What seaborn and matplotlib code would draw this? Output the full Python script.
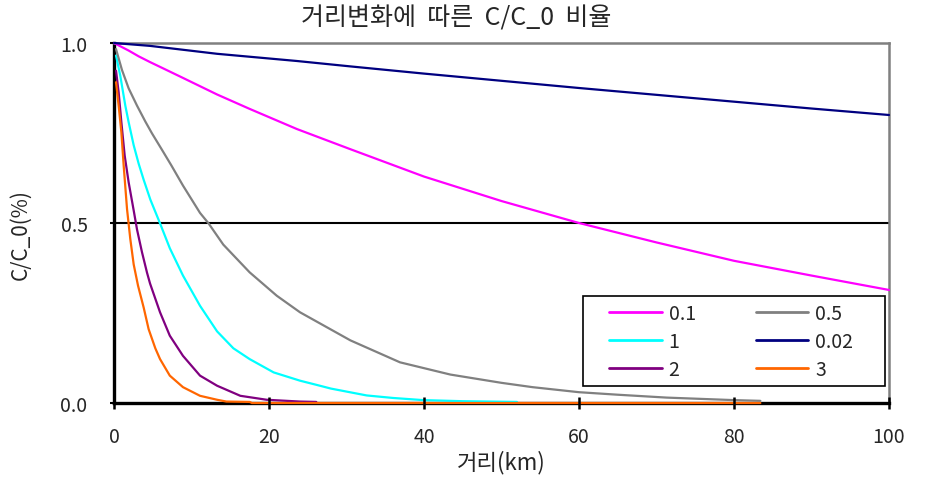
import numpy as np
import pandas as pd
import matplotlib
matplotlib.use("Agg")
import matplotlib.pyplot as plt
from matplotlib.ticker import FormatStrFormatter
from matplotlib.patches import Rectangle
import seaborn as sns

# ---- data ----
labels = ["0.1", "1", "2", "0.5", "0.02", "3"]

x_01 = [0, 1.89, 3.18, 4.65, 6.2, 8.9, 13.3, 17.5, 23.6, 30.5, 40, 50, 60, 70, 80, 90, 100]
y_01 = [1.0, 0.979, 0.963, 0.947, 0.931, 0.903, 0.857, 0.817, 0.761, 0.705, 0.629, 0.561, 0.5, 0.446, 0.395, 0.354, 0.314]

x_002 = [0, 4.65, 13.3, 23.6, 30.5, 40, 50, 60, 70, 80, 90, 100]
y_002 = [1.0, 0.992, 0.970, 0.950, 0.935, 0.915, 0.895, 0.875, 0.856, 0.837, 0.818, 0.80]

x_05 = [0.26, 1.03, 1.89, 2.97, 4.04, 4.9, 6.2, 7.4, 8.9, 11.1, 12.2, 14.1, 17.5, 21, 24,
        30.5, 36.9, 43.4, 50, 54, 60, 65, 71.3, 80, 83.4]
y_05 = [0.983, 0.925, 0.874, 0.826, 0.782, 0.749, 0.703, 0.660, 0.604, 0.528, 0.499, 0.440, 0.363, 0.298, 0.252,
        0.174, 0.113, 0.079, 0.056, 0.044, 0.030, 0.023, 0.015, 0.008, 0.006]

x_1 = [0.26, 0.81, 1.46, 1.89, 2.54, 3.18, 3.83, 4.69, 5.94, 7.2, 8.9, 11.1, 13.3, 15.4, 17.5,
       20.6, 24, 26.2, 28, 32.6, 36, 39.9, 45, 52]
y_1 = [0.965, 0.909, 0.826, 0.78, 0.716, 0.665, 0.620, 0.565, 0.499, 0.430, 0.354, 0.270, 0.199, 0.152, 0.122,
       0.085, 0.062, 0.050, 0.040, 0.021, 0.014, 0.008, 0.005, 0.003]

x_2 = [0.26, 0.6, 0.95, 1.38, 1.89, 2.54, 2.97, 3.61, 4.26, 4.65, 5.94, 7.2, 8.9, 11.1, 13.3,
       16.3, 19.7, 24, 26.1]
y_2 = [0.923, 0.863, 0.78, 0.687, 0.613, 0.535, 0.482, 0.419, 0.362, 0.332, 0.252, 0.187, 0.131, 0.076, 0.048,
       0.020, 0.009, 0.004, 0.003]

x_3 = [0.26, 0.6, 0.95, 1.25, 1.68, 2.1, 2.54, 3.1, 3.83, 4.47, 5.33, 5.94, 7.2, 8.9, 11.1,
       13.3, 14.5, 17.5, 17.8, 83.4]
y_3 = [0.891, 0.826, 0.752, 0.659, 0.539, 0.456, 0.385, 0.326, 0.265, 0.205, 0.152, 0.122, 0.076, 0.044, 0.020,
       0.009, 0.004, 0.003, 0.0, 0.0]

xticks = [0, 20, 40, 60, 80, 100]
yticks = [0.0, 0.5, 1.0]

series = {"0.1": (x_01, y_01), "1": (x_1, y_1), "2": (x_2, y_2),
          "0.5": (x_05, y_05), "0.02": (x_002, y_002), "3": (x_3, y_3)}
frames = []
for name in labels:
    xs, ys = series[name]
    frames.append(pd.DataFrame({"x": xs, "y": ys, "k": name}))
df = pd.concat(frames, ignore_index=True)

palette = {"0.1": "#FF00FF", "1": "#00FFFF", "2": "#800080",
           "0.5": "#808080", "0.02": "#000080", "3": "#FF6600"}

sns.set_theme(style="white")
plt.rcParams["font.family"] = ["Noto Sans CJK KR", "DejaVu Sans"]

fig = plt.figure(figsize=(9.3, 4.89), dpi=100)
ax = fig.add_axes([114 / 930, 1 - 404 / 489, 775 / 930, 360 / 489])

sns.lineplot(data=df, x="x", y="y", hue="k", hue_order=labels, palette=palette,
             estimator=None, sort=False, linewidth=1.6, ax=ax, legend=True)
for ln in ax.get_lines():
    ln.set_clip_on(False)
    ln.set_zorder(3)

ax.axhline(0.5, color="black", lw=1.5, zorder=1)

ax.set_xlim(0, 100)
ax.set_ylim(0, 1)
ax.set_xticks(xticks)
ax.set_yticks(yticks)
ax.yaxis.set_major_formatter(FormatStrFormatter("%.1f"))
ax.tick_params(axis="x", direction="inout", length=9, width=1.8, color="black",
               pad=12, labelsize=14, bottom=True)
ax.tick_params(axis="y", direction="out", length=3, width=1.5, color="black",
               pad=16, labelsize=14, left=True)
ax.xaxis.set_zorder(4)

for side in ["left", "bottom"]:
    ax.spines[side].set_color("black")
    ax.spines[side].set_linewidth(2.4)
for side in ["top", "right"]:
    ax.spines[side].set_color("#808080")
    ax.spines[side].set_linewidth(1.8)

ax.set_xlabel("거리(km)", fontsize=16, labelpad=2)
ax.set_ylabel("C/C_0(%)", fontsize=15)
ax.yaxis.set_label_coords(-0.107, 0.472)
fig.suptitle("거리변화에  따른  C/C_0  비율", x=456 / 930, y=1 - 5 / 489, va="top", fontsize=18)

# legend frame
ax.add_patch(Rectangle((469 / 775, 17 / 360), 302 / 775, 90 / 360, transform=ax.transAxes,
                       fill=True, facecolor="white", edgecolor="black", lw=1.2, zorder=5,
                       clip_on=False))
handles, labs = ax.get_legend_handles_labels()
leg = ax.legend(handles, labs, ncol=2, loc="upper left", bbox_to_anchor=(495 / 775, 100 / 360),
                borderaxespad=0, frameon=False, fontsize=14, handlelength=2.7,
                handletextpad=0.36, columnspacing=3.1, labelspacing=0.36, borderpad=0)
leg.set_zorder(6)
for h in leg.get_lines():
    h.set_linewidth(2)

fig.savefig("out.png", dpi=100)
